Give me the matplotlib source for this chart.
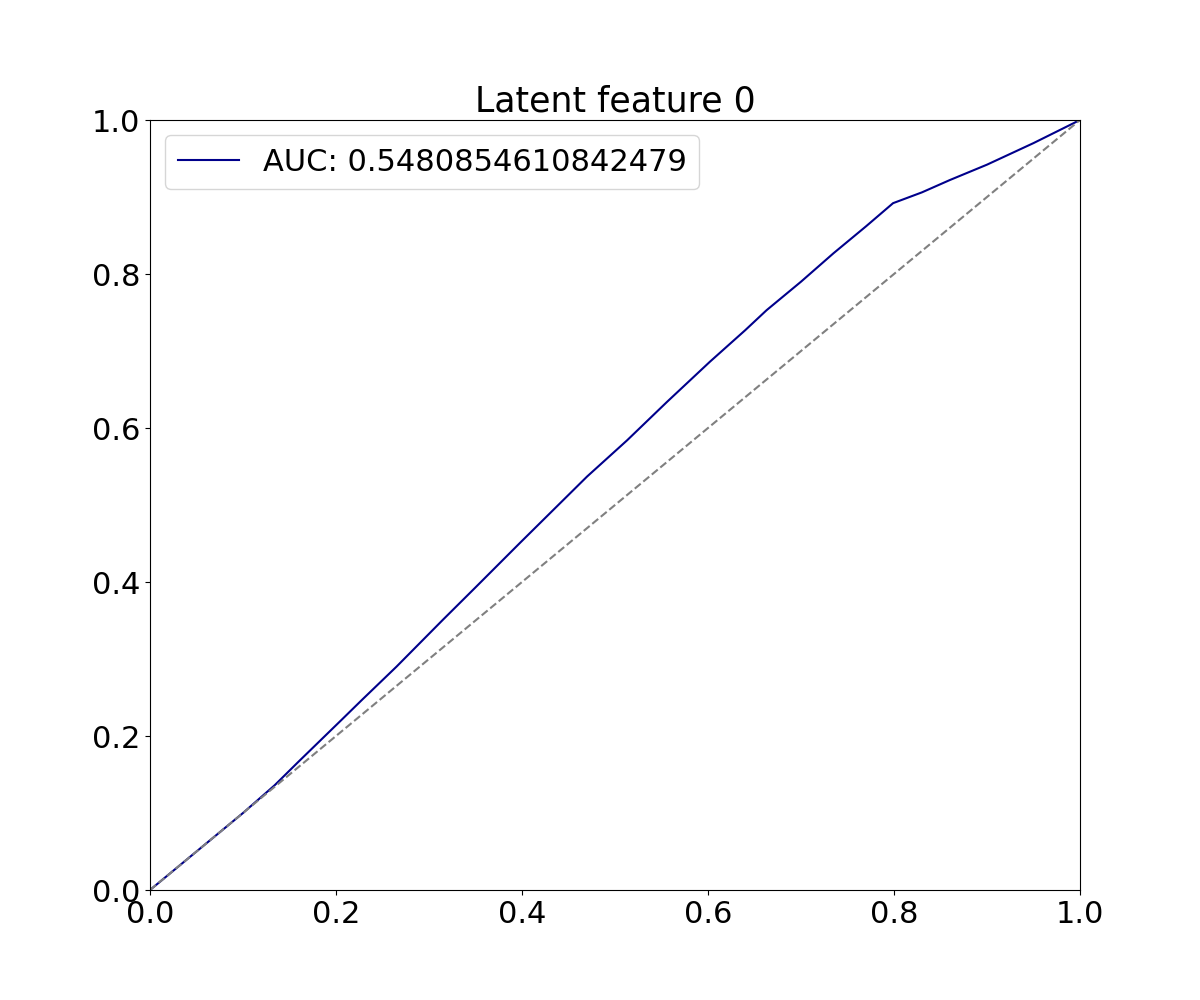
import matplotlib
matplotlib.use("Agg")
from matplotlib import pyplot as plt

# ROC points
fpr = [0.0, 0.05, 0.10, 0.134, 0.16, 0.206, 0.228, 0.265, 0.315, 0.35, 0.398,
       0.434, 0.47, 0.513, 0.556, 0.602, 0.640, 0.663, 0.70, 0.735, 0.77, 0.799,
       0.83, 0.86, 0.90, 0.95, 1.0]
tpr = [0.0, 0.05, 0.10, 0.136, 0.167, 0.221, 0.247, 0.290, 0.351, 0.393, 0.451,
       0.494, 0.537, 0.584, 0.634, 0.686, 0.727, 0.753, 0.790, 0.827, 0.862, 0.892,
       0.906, 0.922, 0.942, 0.970, 1.0]
auc = 0.5480854610842479
title = "Latent feature 0"

plt.rcParams['font.size'] = 22

fig = plt.figure(figsize=(12, 10), dpi=100)
plt.plot(fpr, tpr, color='darkblue', label=f'AUC: {auc}')
plt.plot([0, 1], [0, 1], color='gray', linestyle='--')
plt.xlim(0, 1)
plt.ylim(0, 1)
plt.title(title, fontsize=25)
plt.legend(loc='upper left')
plt.savefig('out.png')
